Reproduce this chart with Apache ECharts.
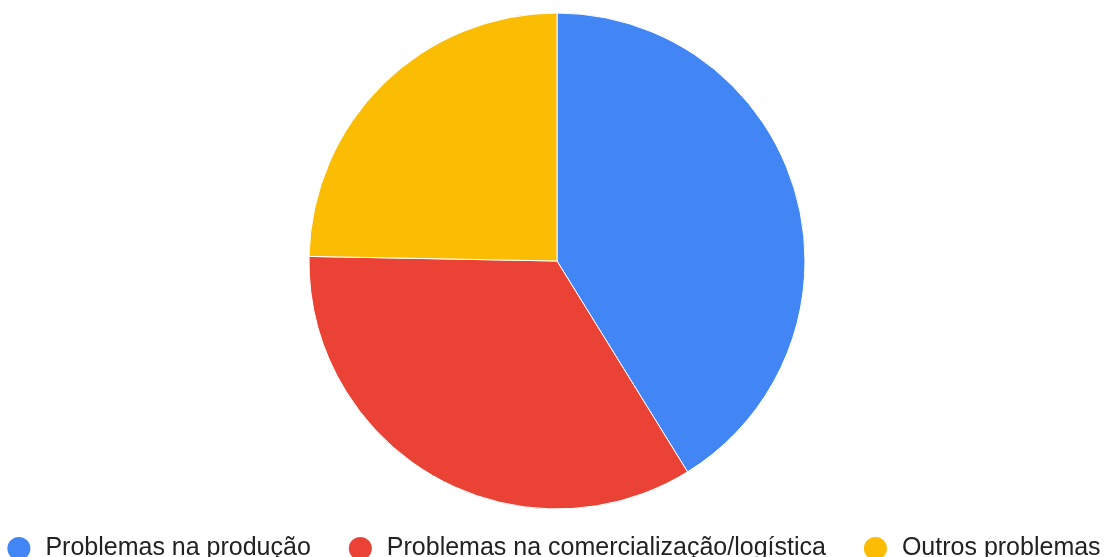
<!DOCTYPE html>
<html>
<head>
<meta charset="utf-8">
<script src="https://cdn.jsdelivr.net/npm/echarts@6/dist/echarts.min.js"></script>
<style>
  html, body { margin: 0; padding: 0; background: #fff; }
  #chart { width: 1106px; height: 557px; }
</style>
</head>
<body>
<div id="chart"></div>
<script>
// Categories and response counts
const categories = ['Problemas na produção', 'Problemas na comercialização/logística', 'Outros problemas'];
const counts = [35, 29, 21];
const colors = ['#4285F4', '#EA4335', '#FBBC04'];

const chart = echarts.init(document.getElementById('chart'));
chart.setOption({
  animation: false,
  color: colors,
  legend: {
    data: categories,
    top: 535,
    left: 'center',
    padding: 0,
    icon: 'circle',
    itemWidth: 25,
    itemHeight: 25,
    itemGap: 36,
    textStyle: {
      fontFamily: 'Liberation Sans, Arial, sans-serif',
      fontSize: 25,
      color: '#222',
      padding: [0, 0, 0, 9]
    }
  },
  series: [{
    type: 'pie',
    center: [557, 261],
    radius: 248,
    startAngle: 90,
    clockwise: true,
    label: { show: false },
    labelLine: { show: false },
    itemStyle: { borderColor: '#fff', borderWidth: 1 },
    emphasis: { disabled: true },
    data: categories.map((name, i) => ({ name, value: counts[i] }))
  }]
});
</script>
</body>
</html>
